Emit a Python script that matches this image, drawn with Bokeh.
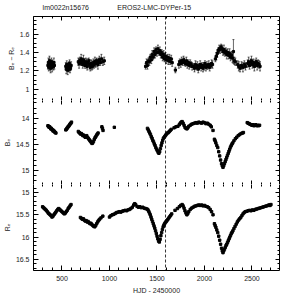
from bokeh.plotting import figure
from bokeh.models import (Range1d, LinearAxis, Span, Whisker, ColumnDataSource,
                          Label, SingleIntervalTicker, FixedTicker, TeeHead)
from bokeh.layouts import column
from bokeh.embed import file_html
from bokeh.resources import INLINE

FIELD = "lm0022n15676"
STAR = "EROS2-LMC-DYPer-15"
X_LABEL = "HJD - 2450000"
EVENT_DAY = 1590

# colour index B_E - R_E
c_days = [352, 357, 361, 365, 368, 372, 376, 380, 384, 388, 392, 396, 400, 405, 410, 415, 420,
          540, 545, 550, 555, 560, 565, 570, 575, 580, 585, 590, 596,
          672, 680, 688, 695, 702, 710, 718, 726, 734, 742, 750, 758, 766, 774, 782, 790, 798,
          806, 814, 822, 830, 838, 846, 854, 862, 870, 878, 886, 894, 902, 915, 930, 945,
          1380, 1390, 1400, 1410, 1420, 1430, 1440, 1450, 1460, 1470, 1480, 1490, 1500, 1510,
          1520, 1530, 1540, 1550, 1560, 1570, 1580, 1590, 1600, 1610, 1620, 1630, 1640, 1650, 1660,
          1694,
          1730, 1740, 1750, 1760, 1770, 1780, 1790, 1800, 1810, 1820, 1830, 1840, 1850, 1860, 1870,
          1885, 1895, 1905, 1915, 1925, 1935, 1945, 1955, 1965, 1975, 1985, 1995, 2005, 2015,
          2025, 2035, 2045, 2055, 2065, 2075, 2085,
          2115, 2125, 2135, 2145, 2155, 2165, 2175, 2185, 2195, 2205, 2215, 2225, 2235, 2245,
          2255, 2265, 2275, 2285, 2295, 2305, 2315, 2325,
          2350, 2362, 2375, 2390, 2405, 2420, 2432,
          2455, 2465, 2475, 2485, 2495, 2505, 2515, 2525, 2535, 2545, 2555, 2565, 2575, 2585]
c_vals = [1.26, 1.29, 1.24, 1.27, 1.31, 1.25, 1.28, 1.23, 1.27, 1.30, 1.26, 1.24, 1.28, 1.27, 1.25, 1.29, 1.26,
          1.25, 1.22, 1.27, 1.24, 1.21, 1.26, 1.23, 1.25, 1.28, 1.22, 1.24, 1.26,
          1.30, 1.28, 1.31, 1.29, 1.33, 1.30, 1.27, 1.32, 1.29, 1.26, 1.30, 1.28, 1.25, 1.29, 1.31, 1.27, 1.24,
          1.28, 1.26, 1.25, 1.29, 1.27, 1.30, 1.28, 1.31, 1.29, 1.27, 1.30, 1.32, 1.29, 1.33, 1.30, 1.31,
          1.25, 1.29, 1.26, 1.31, 1.30, 1.35, 1.32, 1.38, 1.35, 1.41, 1.38, 1.43, 1.40, 1.44,
          1.40, 1.42, 1.38, 1.40, 1.35, 1.38, 1.33, 1.36, 1.32, 1.35, 1.31, 1.34, 1.30, 1.33, 1.29,
          1.21,
          1.27, 1.30, 1.28, 1.31, 1.29, 1.32, 1.30, 1.28, 1.31, 1.27, 1.29, 1.26, 1.28, 1.27, 1.25,
          1.25, 1.23, 1.27, 1.24, 1.26, 1.22, 1.25, 1.27, 1.24, 1.26, 1.23, 1.25, 1.28, 1.24,
          1.26, 1.25, 1.27, 1.24, 1.26, 1.28, 1.27,
          1.33, 1.36, 1.39, 1.42, 1.44, 1.43, 1.46, 1.44, 1.41, 1.43, 1.40, 1.41, 1.38, 1.40,
          1.37, 1.39, 1.35, 1.37, 1.34, 1.41, 1.31, 1.30,
          1.27, 1.25, 1.23, 1.26, 1.24, 1.27, 1.25,
          1.28, 1.30, 1.26, 1.29, 1.31, 1.27, 1.29, 1.25, 1.28, 1.30, 1.26, 1.28, 1.27, 1.25]
c_errs = [0.04, 0.05, 0.04, 0.03, 0.05, 0.04, 0.04, 0.05, 0.03, 0.04, 0.04, 0.05, 0.04, 0.03, 0.04, 0.05, 0.04,
          0.04, 0.05, 0.04, 0.04, 0.05, 0.03, 0.04, 0.05, 0.04, 0.04, 0.03, 0.04,
          0.04, 0.05, 0.04, 0.03, 0.05, 0.04, 0.04, 0.05, 0.04, 0.03, 0.04, 0.05, 0.04, 0.04, 0.03, 0.05, 0.04,
          0.04, 0.05, 0.03, 0.04, 0.04, 0.05, 0.04, 0.03, 0.04, 0.05, 0.04, 0.04, 0.03, 0.05, 0.04, 0.04,
          0.03, 0.04, 0.04, 0.03, 0.04, 0.03, 0.04, 0.04, 0.03, 0.04, 0.04, 0.03, 0.04, 0.04,
          0.03, 0.04, 0.04, 0.03, 0.04, 0.04, 0.03, 0.04, 0.04, 0.03, 0.04, 0.04, 0.03, 0.04, 0.04,
          0.03,
          0.04, 0.03, 0.04, 0.04, 0.03, 0.04, 0.04, 0.03, 0.04, 0.04, 0.03, 0.04, 0.04, 0.03, 0.04,
          0.03, 0.04, 0.04, 0.03, 0.04, 0.04, 0.03, 0.04, 0.04, 0.03, 0.04, 0.04, 0.03, 0.04,
          0.04, 0.03, 0.04, 0.04, 0.03, 0.04, 0.04,
          0.03, 0.04, 0.04, 0.03, 0.04, 0.04, 0.03, 0.04, 0.04, 0.05, 0.04, 0.04, 0.05, 0.04,
          0.04, 0.05, 0.04, 0.04, 0.05, 0.13, 0.04, 0.04,
          0.04, 0.05, 0.04, 0.04, 0.05, 0.04, 0.04,
          0.04, 0.05, 0.04, 0.04, 0.05, 0.04, 0.04, 0.05, 0.04, 0.04, 0.05, 0.04, 0.04, 0.05]

# blue magnitude B_E
b_days = [352, 358, 364, 370, 376, 382, 388, 394, 400, 406, 412, 418, 424, 430, 436,
          540, 546, 552, 558, 564, 570, 576, 582, 588, 594, 600,
          672, 680, 688, 696, 704, 712, 720, 728, 736, 744, 752, 760, 768, 776, 784, 792, 800, 808,
          816, 824, 832, 840, 848, 856, 864, 872, 880,
          920, 926, 932, 1051,
          1400, 1408, 1416, 1424, 1432, 1440, 1448, 1456, 1464, 1472, 1480, 1488, 1496, 1504, 1512,
          1520, 1528, 1536, 1544, 1552, 1560, 1568, 1576, 1584, 1592, 1600, 1610, 1620, 1630, 1640, 1650,
          1680, 1700, 1720, 1735, 1745, 1755, 1765, 1775, 1785, 1795, 1805, 1815, 1825, 1835, 1850,
          1865, 1880, 1895, 1910, 1925, 1940, 1955, 1970, 1985, 2000, 2015, 2030, 2045, 2060, 2072, 2090,
          2105, 2112, 2120, 2130, 2140, 2150, 2160, 2170, 2180, 2188, 2195, 2202, 2210, 2218, 2226,
          2234, 2242, 2250, 2258, 2266, 2274, 2282, 2290, 2298, 2310, 2325, 2340, 2355, 2370, 2385,
          2400, 2410,
          2450, 2460, 2470, 2480, 2490, 2500, 2510, 2520, 2530, 2540, 2550, 2560, 2570, 2580]
b_vals = [14.14, 14.15, 14.17, 14.16, 14.18, 14.20, 14.19, 14.21, 14.22, 14.24, 14.23, 14.25, 14.26, 14.27, 14.28,
          14.22, 14.21, 14.19, 14.18, 14.16, 14.15, 14.13, 14.12, 14.10, 14.09, 14.07,
          14.25, 14.27, 14.28, 14.30, 14.29, 14.31, 14.33, 14.32, 14.34, 14.36, 14.35, 14.33, 14.36, 14.38,
          14.40, 14.42, 14.44, 14.46, 14.48, 14.47, 14.44, 14.40, 14.37, 14.35, 14.32, 14.30, 14.28,
          14.16, 14.19, 14.23, 14.17,
          14.19, 14.22, 14.25, 14.28, 14.31, 14.35, 14.38, 14.42, 14.45, 14.49, 14.52, 14.56, 14.59, 14.62, 14.65,
          14.67, 14.64, 14.58, 14.52, 14.47, 14.42, 14.38, 14.36, 14.34, 14.32, 14.30, 14.28, 14.27, 14.25, 14.23, 14.21,
          14.18, 14.16, 14.15, 14.12, 14.09, 14.07, 14.06, 14.09, 14.13, 14.17, 14.19, 14.20, 14.18, 14.15, 14.13,
          14.11, 14.10, 14.09, 14.08, 14.09, 14.07, 14.08, 14.09, 14.07, 14.08, 14.10, 14.09, 14.11, 14.13, 14.16, 14.23,
          14.40, 14.43, 14.47, 14.52, 14.56, 14.64, 14.72, 14.80, 14.87, 14.91, 14.94, 14.91, 14.87, 14.83, 14.79,
          14.75, 14.71, 14.67, 14.63, 14.59, 14.55, 14.52, 14.49, 14.47, 14.43, 14.39, 14.36, 14.33, 14.31, 14.29,
          14.28, 14.27,
          14.08, 14.09, 14.10, 14.11, 14.12, 14.13, 14.12, 14.14, 14.13, 14.12, 14.14, 14.13, 14.14, 14.13]

# red magnitude R_E
r_days = [296, 305, 315, 325, 335, 345, 355, 365, 375, 385, 395, 405, 415, 425, 435, 445, 455, 465,
          475, 485, 495, 505, 515, 525, 535, 545, 555, 565, 575, 585, 595,
          694, 705, 715, 725, 735, 745, 755, 765, 775, 785, 795, 805, 815, 825, 835, 845, 855, 865,
          875, 885, 895, 910, 930,
          1000, 1015, 1030, 1045, 1060, 1075, 1090, 1105, 1120, 1135, 1150, 1165, 1180, 1195, 1210,
          1225, 1240, 1255, 1265, 1275, 1290, 1305, 1320, 1335, 1350, 1365, 1380, 1395,
          1405, 1413, 1421, 1429, 1437, 1445, 1453, 1461, 1469, 1477, 1485, 1493, 1501, 1509, 1517,
          1525, 1533, 1541, 1549, 1557, 1565, 1573, 1581, 1589, 1597, 1605, 1615, 1625, 1635, 1645, 1655,
          1690, 1715, 1735, 1750, 1765, 1775, 1785, 1795, 1805, 1815, 1825, 1835, 1850, 1865, 1880,
          1895, 1910, 1925, 1940, 1955, 1970, 1985, 2000, 2015, 2030, 2045, 2060, 2075, 2090,
          2105, 2112, 2120, 2130, 2140, 2150, 2160, 2170, 2180, 2188, 2195, 2203, 2211, 2219, 2227,
          2235, 2243, 2251, 2259, 2267, 2275, 2283, 2291, 2299, 2310, 2322, 2334, 2346, 2358, 2370,
          2382, 2394, 2406, 2418, 2430, 2445, 2460,
          2475, 2490, 2505, 2520, 2535, 2550, 2565, 2580, 2595, 2610, 2625, 2640, 2655, 2670, 2680, 2690, 2700]
r_vals = [15.32, 15.34, 15.36, 15.38, 15.40, 15.43, 15.46, 15.48, 15.50, 15.52, 15.55, 15.53, 15.50, 15.47,
          15.44, 15.41, 15.38, 15.36, 15.38, 15.40, 15.42, 15.44, 15.46, 15.48, 15.46, 15.43, 15.40, 15.36,
          15.33, 15.30, 15.27,
          15.56, 15.58, 15.60, 15.59, 15.62, 15.64, 15.63, 15.66, 15.65, 15.68, 15.70, 15.69, 15.72, 15.74,
          15.76, 15.77, 15.74, 15.70, 15.66, 15.63, 15.60, 15.57, 15.53,
          15.55, 15.52, 15.50, 15.49, 15.47, 15.45, 15.44, 15.43, 15.44, 15.42, 15.41, 15.40, 15.41, 15.39,
          15.38, 15.36, 15.33, 15.28, 15.25, 15.27, 15.31, 15.33, 15.32, 15.34, 15.33, 15.35, 15.36, 15.37,
          15.39, 15.42, 15.46, 15.50, 15.55, 15.60, 15.65, 15.70, 15.75, 15.80, 15.86, 15.92, 15.98, 16.04,
          16.09, 16.11, 16.05, 15.97, 15.90, 15.83, 15.77, 15.73, 15.70, 15.67, 15.65, 15.63, 15.60, 15.57,
          15.54, 15.51, 15.48,
          15.40, 15.36, 15.32, 15.29, 15.27, 15.30, 15.35, 15.41, 15.46, 15.50, 15.47, 15.43, 15.38, 15.35,
          15.33, 15.31, 15.30, 15.29, 15.28, 15.29, 15.28, 15.30, 15.29, 15.31, 15.32, 15.34, 15.38, 15.43, 15.50,
          15.70, 15.74, 15.78, 15.84, 15.90, 15.98, 16.07, 16.16, 16.25, 16.31, 16.35, 16.31, 16.27, 16.23,
          16.19, 16.16, 16.12, 16.08, 16.04, 16.00, 15.96, 15.92, 15.89, 15.86, 15.81, 15.76, 15.71, 15.66,
          15.62, 15.59, 15.56, 15.52, 15.48, 15.45, 15.43, 15.42, 15.41,
          15.40, 15.41, 15.39, 15.40, 15.38, 15.37, 15.36, 15.35, 15.34, 15.33, 15.32, 15.31, 15.30, 15.29,
          15.28, 15.29, 15.27]

# tick positions
X_MAJOR = [500, 1000, 1500, 2000, 2500]
X_MINOR = [d for d in range(200, 2800, 100) if d % 500]
C_MAJOR = [1.0, 1.2, 1.4, 1.6]
C_MINOR = [round(0.90 + 0.05 * i, 2) for i in range(18)]
B_MAJOR = [14.0, 14.5, 15.0]
B_MINOR = [round(13.7 + 0.1 * i, 1) for i in range(16)]
R_MAJOR = [15.0, 15.5, 16.0, 16.5]
R_MINOR = [round(14.9 + 0.1 * i, 1) for i in range(19)]

FONT = "Liberation Sans"
FS = "7px"
TXT = "#222222"

x_range = Range1d(200, 2790)


def make_fig(height, y_range, bottom):
    p = figure(width=288, height=height, x_range=x_range, y_range=y_range,
               output_backend="svg", toolbar_location=None,
               x_axis_location=None, y_axis_location=None,
               min_border_left=26, min_border_right=9,
               min_border_top=0, min_border_bottom=bottom,
               outline_line_color=None, background_fill_color="white",
               border_fill_color="white")
    p.grid.visible = False
    return p


def tick_style(ax, major_len, minor_len):
    ax.major_tick_in = major_len
    ax.major_tick_out = 0
    ax.minor_tick_in = minor_len
    ax.minor_tick_out = 0
    ax.major_tick_line_color = "black"
    ax.minor_tick_line_color = "black"


def label_style(ax):
    ax.major_label_text_font = FONT
    ax.major_label_text_font_size = FS
    ax.major_label_text_color = TXT
    ax.major_label_standoff = 4
    ax.axis_label_text_font = FONT
    ax.axis_label_text_font_size = FS
    ax.axis_label_text_font_style = "normal"
    ax.axis_label_text_color = TXT
    ax.axis_label_standoff = 2


def bare_axes(p, side, major, minor, draw_line):
    # mirrored tick marks without labels: majors and minors on two label-free axes
    a1 = LinearAxis(ticker=FixedTicker(ticks=[], minor_ticks=major))
    tick_style(a1, 0, 4)
    a1.axis_line_color = "black" if draw_line else None
    a2 = LinearAxis(ticker=FixedTicker(ticks=[], minor_ticks=minor))
    tick_style(a2, 0, 2)
    a2.axis_line_color = None
    p.add_layout(a1, side)
    p.add_layout(a2, side)


def add_axes(p, y_interval, y_minor, y_major_list, y_minor_list, overrides, ylabel,
             x_labels, top_line):
    left = LinearAxis(ticker=SingleIntervalTicker(interval=y_interval, num_minor_ticks=y_minor),
                      axis_label=ylabel, major_label_overrides=overrides)
    tick_style(left, 5, 3)
    label_style(left)
    left.axis_line_color = "black"
    p.add_layout(left, "left")
    bare_axes(p, "right", y_major_list, y_minor_list, True)
    if x_labels:
        below = LinearAxis(ticker=SingleIntervalTicker(interval=500, num_minor_ticks=5),
                           axis_label=X_LABEL)
        tick_style(below, 5, 3)
        label_style(below)
        below.major_label_standoff = 5
        below.axis_label_standoff = 3
        below.axis_line_color = "black"
        p.add_layout(below, "below")
    else:
        bare_axes(p, "below", X_MAJOR, X_MINOR, True)
    bare_axes(p, "above", X_MAJOR, X_MINOR, top_line)
    p.add_layout(Span(location=EVENT_DAY, dimension="height", line_color="black",
                      line_width=0.8, line_dash="3 2"))


# header strip with the field and star names
p0 = figure(width=288, height=16, x_range=x_range, y_range=Range1d(0, 1),
            output_backend="svg", toolbar_location=None,
            x_axis_location=None, y_axis_location=None,
            min_border_left=26, min_border_right=9, min_border_top=0, min_border_bottom=0,
            outline_line_color=None, background_fill_color="white", border_fill_color="white")
p0.grid.visible = False
p0.add_layout(Label(x=296, y=0.56, text=FIELD, text_font=FONT, text_font_size=FS,
                    text_baseline="middle", text_color=TXT))
p0.add_layout(Label(x=1082, y=0.56, text=STAR, text_font=FONT, text_font_size=FS,
                    text_baseline="middle", text_color=TXT))

# top panel: colour
p1 = make_fig(84, Range1d(0.88, 1.79), 0)
add_axes(p1, 0.2, 4, C_MAJOR, C_MINOR, {1: "1"}, "Bₑ − Rₑ", False, True)
src_c = ColumnDataSource(dict(x=c_days, y=c_vals,
                              upper=[v + e for v, e in zip(c_vals, c_errs)],
                              lower=[v - e for v, e in zip(c_vals, c_errs)]))
p1.add_layout(Whisker(base="x", upper="upper", lower="lower", source=src_c,
                      line_color="black", line_width=0.6,
                      upper_head=TeeHead(size=2, line_color="black", line_width=0.6),
                      lower_head=TeeHead(size=2, line_color="black", line_width=0.6)))
p1.scatter("x", "y", source=src_c, marker="square", size=2.2, color="black")

# middle panel: B_E
p2 = make_fig(84, Range1d(15.27, 13.654), 0)
add_axes(p2, 0.5, 5, B_MAJOR, B_MINOR, {14: "14", 15: "15"}, "Bₑ", False, False)
p2.scatter(b_days, b_vals, marker="square", size=2.4, color="black")

# bottom panel: R_E
p3 = make_fig(112, Range1d(16.75, 14.82), 26)
add_axes(p3, 0.5, 5, R_MAJOR, R_MINOR, {15: "15", 16: "16"}, "Rₑ", True, False)
p3.scatter(r_days, r_vals, marker="square", size=2.4, color="black")

layout = column(p0, p1, p2, p3, spacing=0)
open("out.html", "w").write(file_html(layout, INLINE))
